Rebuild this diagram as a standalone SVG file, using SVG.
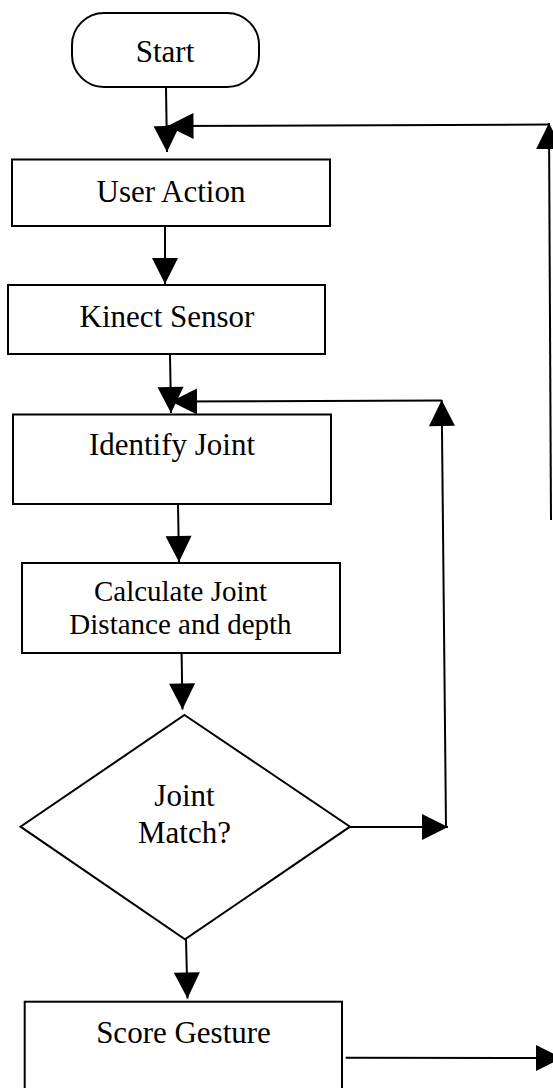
<svg xmlns="http://www.w3.org/2000/svg" width="553" height="1088" viewBox="0 0 553 1088">
<style>
.box{fill:#fff;stroke:#000;stroke-width:2}
.t{font-family:"Liberation Serif","Times New Roman",serif;font-size:31px;fill:#000;text-anchor:middle}
.t2{font-size:29px}
.c{fill:none;stroke:#000;stroke-width:2}
</style>
<defs>
<marker id="ah" markerUnits="userSpaceOnUse" markerWidth="26" markerHeight="26" refX="26" refY="13" orient="auto" overflow="visible">
<path d="M0,0 L26,13 L0,26 Z" fill="#000"/>
</marker>
</defs>
<rect width="553" height="1088" fill="#fff"/>
<g id="connectors">
<line class="c" x1="166" y1="87" x2="167" y2="152" marker-end="url(#ah)"/>
<line class="c" x1="551" y1="520" x2="549" y2="123" marker-end="url(#ah)"/>
<line class="c" x1="549" y1="124.5" x2="167.5" y2="126" marker-end="url(#ah)"/>
<line class="c" x1="165" y1="226" x2="165" y2="284" marker-end="url(#ah)"/>
<line class="c" x1="170" y1="354" x2="171" y2="413" marker-end="url(#ah)"/>
<line class="c" x1="446" y1="827" x2="441.7" y2="400" marker-end="url(#ah)"/>
<line class="c" x1="441.7" y1="400.5" x2="171" y2="401.5" marker-end="url(#ah)"/>
<line class="c" x1="178" y1="504" x2="179" y2="562" marker-end="url(#ah)"/>
<line class="c" x1="181.6" y1="653" x2="182.5" y2="709.5" marker-end="url(#ah)"/>
<line class="c" x1="350" y1="827" x2="448" y2="827" marker-end="url(#ah)"/>
<line class="c" x1="186" y1="939.3" x2="187.5" y2="998.5" marker-end="url(#ah)"/>
<line class="c" x1="345.7" y1="1057.7" x2="562" y2="1058" marker-end="url(#ah)"/>
</g>
<g id="start">
<rect class="box" x="72" y="13" width="187" height="74" rx="32" ry="32"/>
<text class="t" x="165" y="61.5">Start</text>
</g>
<g id="user-action">
<rect class="box" x="12" y="159.5" width="318" height="66.5"/>
<text class="t" x="171" y="202">User Action</text>
</g>
<g id="kinect-sensor">
<rect class="box" x="8" y="285" width="317" height="69"/>
<text class="t" x="167" y="326.5">Kinect Sensor</text>
</g>
<g id="identify-joint">
<rect class="box" x="13" y="414.5" width="318" height="89.5"/>
<text class="t" x="172" y="455">Identify Joint</text>
</g>
<g id="calculate">
<rect class="box" x="22" y="563" width="318" height="90"/>
<text class="t t2" x="180.5" y="600.5">Calculate Joint</text>
<text class="t t2" x="180.5" y="634">Distance and depth</text>
</g>
<g id="joint-match">
<polygon class="box" points="184.5,715 350,826.7 185,939.3 20.5,826.7"/>
<text class="t" x="184.5" y="806">Joint</text>
<text class="t" x="184.5" y="843">Match?</text>
</g>
<g id="score-gesture">
<rect class="box" x="24.7" y="1001.7" width="317.3" height="100"/>
<text class="t" x="183.5" y="1042.5">Score Gesture</text>
</g>
</svg>
